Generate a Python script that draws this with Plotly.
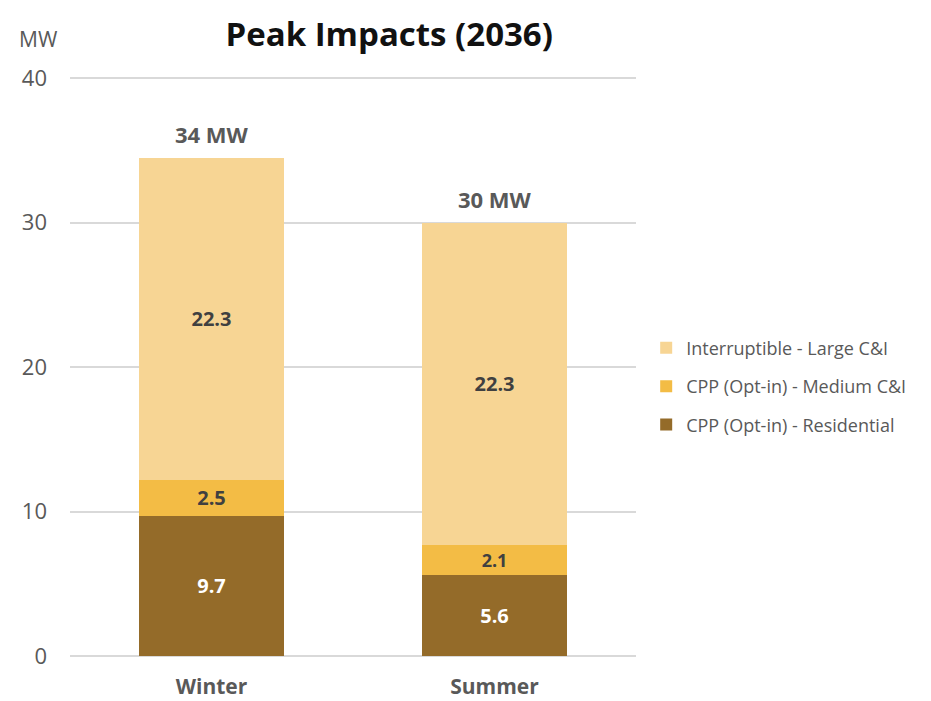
import plotly.graph_objects as go

categories = ["Winter", "Summer"]
residential = [9.7, 5.6]
medium_ci = [2.5, 2.1]
large_ci = [22.3, 22.3]
total_labels = ["34 MW", "30 MW"]

series = [
    ("CPP (Opt-in) - Residential", residential, "#946B29", "white", 3),
    ("CPP (Opt-in) - Medium C&I", medium_ci, "#F3BC45", "#404040", 2),
    ("Interruptible - Large C&I", large_ci, "#F7D594", "#404040", 1),
]

FONT = "Open Sans"

fig = go.Figure()
for name, vals, color, txtcolor, rank in series:
    fig.add_trace(go.Bar(
        x=categories, y=vals, name=name,
        marker=dict(color=color, line=dict(width=0)),
        text=vals, texttemplate="<b>%{text:.1f}</b>",
        textposition="inside", insidetextanchor="middle",
        textfont=dict(family=FONT, size=20, color=txtcolor),
        legendgroup=name, legendrank=rank,
    ))

totals = [r + m + l for r, m, l in zip(residential, medium_ci, large_ci)]
annotations = []
for cat, tot, lab in zip(categories, totals, total_labels):
    annotations.append(dict(
        x=cat, y=tot, text=f"<b>{lab}</b>", showarrow=False,
        yanchor="bottom", yshift=7,
        font=dict(family=FONT, size=22, color="#595959"),
    ))

annotations.append(dict(
    x=-0.055, y=1.06, xref="paper", yref="paper", text="MW", showarrow=False,
    xanchor="center", yanchor="middle",
    font=dict(family=FONT, size=21, color="#595959"),
))

fig.update_layout(
    barmode="stack",
    bargap=0.49,
    width=931, height=701,
    margin=dict(l=62, r=303, t=66, b=53),
    paper_bgcolor="white", plot_bgcolor="white",
    title=dict(
        text="<b>Peak Impacts (2036)</b>",
        x=0.564, xref="paper", xanchor="center",
        y=0.962, yref="container", yanchor="middle",
        font=dict(family=FONT, size=33, color="#111111"),
    ),
    font=dict(family=FONT, color="#595959"),
    xaxis=dict(
        tickfont=dict(family=FONT, size=21, color="#595959"),
        tickprefix="<b>", ticksuffix="</b>",
        ticklabelstandoff=16, showgrid=False, showline=False,
        automargin=False,
    ),
    yaxis=dict(
        range=[0, 40.3], tickvals=[0, 10, 20, 30, 40],
        gridcolor="#D9D9D9", gridwidth=1.5,
        zeroline=True, zerolinecolor="#D9D9D9", zerolinewidth=1.5,
        tickfont=dict(family=FONT, size=22, color="#595959"),
        ticklabelstandoff=22, automargin=False,
    ),
    legend=dict(
        x=1.018, xanchor="left", y=0.463, yanchor="middle",
        traceorder="grouped", tracegroupgap=12,
        font=dict(family=FONT, size=18, color="#595959"),
        itemwidth=30,
    ),
    annotations=annotations,
    showlegend=True,
)

fig.write_html("out.html")
